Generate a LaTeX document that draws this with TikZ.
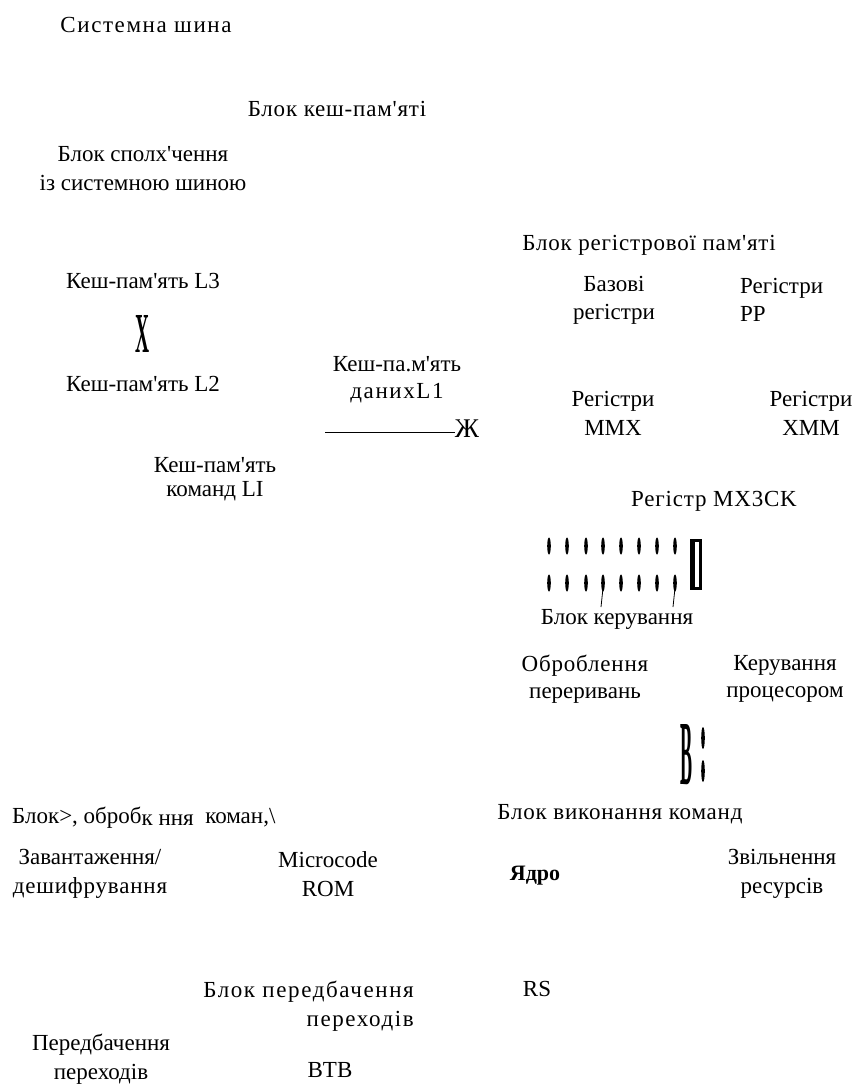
\documentclass[tikz,border=0pt]{standalone}
\usepackage{fontspec}
\setmainfont{Liberation Serif}[Ligatures=TeXOff]
\newfontfamily\widefont{Liberation Serif}[Ligatures=TeXOff,LetterSpace=7]
\newfontfamily\semifont{Liberation Serif}[Ligatures=TeXOff,LetterSpace=3.5]
\tikzset{
  lbl/.style={inner sep=0pt,align=center,font=\fontsize{23}{29}\selectfont},
  wide/.style={lbl,font=\widefont\fontsize{23}{29}\selectfont},
  semi/.style={lbl,font=\semifont\fontsize{23}{29}\selectfont},
  tick/.style={fill=black}
}
\begin{document}
\begin{tikzpicture}[x=1pt,y=-1pt]
\useasboundingbox (0,0) rectangle (864,1089);
% upper part
\node[wide] (sysbus) at (146,25) {Системна шина};
\node[semi] (cacheblk) at (337,109) {Блок кеш-пам'яті};
\node[lbl] (busif) at (143,169) {Блок сполх'чення\\із системною шиною};
\node[lbl] (l3) at (143,281) {Кеш-пам'ять L3};
\node[inner sep=0pt] (xsign) at (142,334) {\resizebox{14pt}{37pt}{\bfseries X}};
\node[lbl] (l2) at (143,384) {Кеш-пам'ять L2};
\node[lbl,font=\fontsize{23}{27}\selectfont] (l1d) at (397,380) {Кеш-па.м'ять\\{\widefont данихL1}};
\node[lbl,font=\fontsize{27}{28}\selectfont] (zhe) at (467,429) {Ж};
\coordinate (lstart) at (325,432);
\draw (lstart) -- (zhe.west|-lstart);
\node[lbl,font=\fontsize{23}{24}\selectfont] (l1i) at (215,479) {Кеш-пам'ять\\команд LI};
% registers
\node[semi] (regblk) at (649,245) {Блок регістрової пам'яті};
\node[lbl,font=\fontsize{23}{28}\selectfont] (basereg) at (614,300) {Базові\\регістри};
\node[lbl,font=\fontsize{23}{28}\selectfont,align=left,anchor=west] (ppreg) at (740,300) {Регістри\\PP};
\node[lbl] (mmx) at (613,413) {Регістри\\MMX};
\node[lbl] (xmm) at (811,413) {Регістри\\XMM};
\node[semi] (mxcsr) at (714,501) {Регістр MX3CK};
% control block
\foreach \x in {549,567,586,603,621,639,657,675}
{
  \fill[tick] (\x,546) ellipse (1.8 and 8.5);
  \fill[tick] (\x,583) ellipse (1.8 and 8.5);
}
\draw[line width=0.8pt] (603,588) -- (601,607);
\draw[line width=0.8pt] (675,588) -- (673,607);
\fill (690,539) rectangle (702,590);
\fill[white] (695,542) rectangle (699,587);
\node[lbl] (ctrl) at (617,619) {Блок керування};
\node[lbl,font=\fontsize{23}{27}\selectfont] (intr) at (585,679) {{\semifont Оброблення}\\переривань};
\node[lbl,font=\fontsize{23}{27}\selectfont] (cpuctl) at (785,679) {Керування\\процесором};
% execution block
\node[inner sep=0pt] (bsign) at (686,755) {\resizebox{12pt}{60pt}{\bfseries B}};
\fill[tick] (703,738) ellipse (1.8 and 11);
\fill[tick] (703,771) ellipse (1.8 and 11);
\node[semi] (exec) at (620,814) {Блок виконання команд};
\node[lbl,font=\bfseries\fontsize{22}{22}\selectfont] (core) at (535,876) {Ядро};
\node[lbl] (retire) at (782,874) {Звільнення\\ресурсів};
\node[lbl] (rs) at (537,989) {RS};
% instruction block
\node[lbl,anchor=west] (instr) at (12,818) {Блок>, оброб\raisebox{-2pt}{к ння}\ \ коман,\textbackslash};
\node[lbl] (decode) at (90,874) {Завантаження/\\{\semifont дешифрування}};
\node[lbl] (ucode) at (328,874) {Microcode\\ROM};
\node[wide,align=right,anchor=east] (bpblk) at (414,1006) {Блок передбачення\\переходів};
\node[lbl] (bpred) at (101,1059) {Передбачення\\переходів};
\node[lbl] (btb) at (330,1070) {BTB};
\end{tikzpicture}
\end{document}
